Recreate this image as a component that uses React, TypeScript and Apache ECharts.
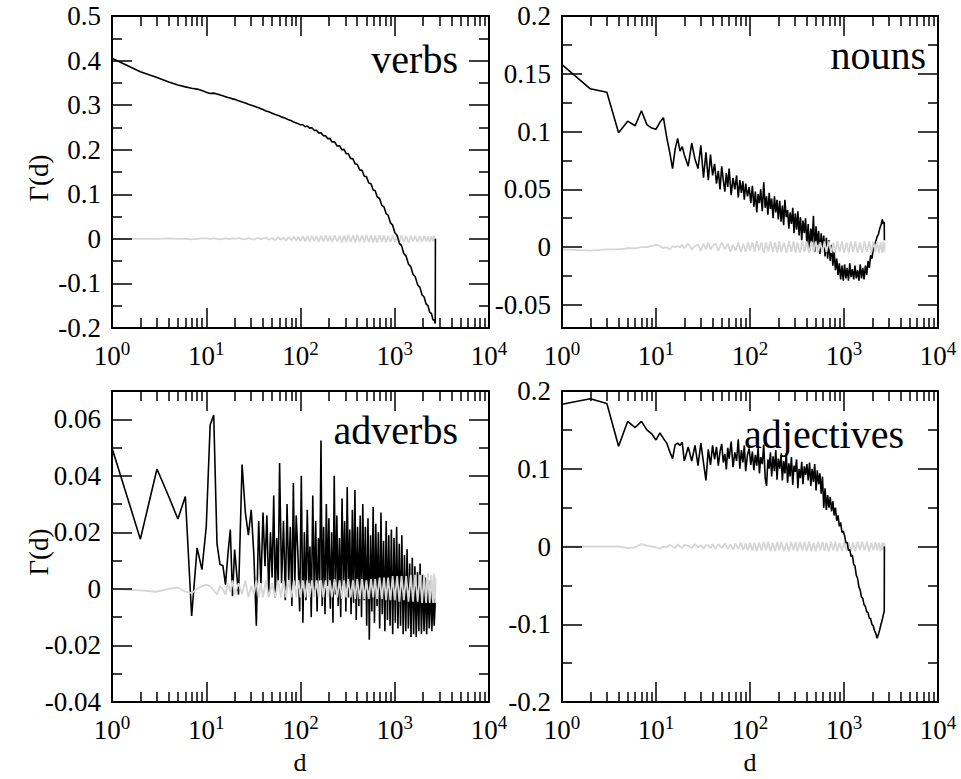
import React, { useEffect, useRef } from "react";
import * as echarts from "echarts";

// distance d (coarse sampling: verbs curve and all shuffled curves)
const D = [
  1, 2, 3, 4, 5, 6, 7, 8, 9, 10, 11, 12, 13, 14, 15, 16, 17, 18, 19, 20,
  22, 24, 26, 28, 30, 32, 34, 36, 38, 40,
  43, 46, 50, 54, 58, 62, 66, 70, 75, 80, 85, 90, 95, 100,
  106, 112, 118, 125, 132, 140, 148, 156, 165, 175, 185, 195,
  205, 215, 230, 245, 260, 275, 290, 305, 320, 340, 360, 380, 400,
  425, 450, 475, 500, 530, 560, 590, 620, 650, 690, 730, 770, 810, 850, 900, 950, 1000,
  1060, 1120, 1180, 1250, 1320, 1400, 1480, 1560, 1650, 1750, 1850, 1950,
  2050, 2150, 2250, 2350, 2450, 2550, 2620, 2690, 2700,
];

// denser sampling for the noisy curves (nouns, adverbs, adjectives)
const D_DENSE = [
  1, 2, 3, 4, 5, 6, 7, 8, 9, 10, 11, 12, 13, 14, 15, 16, 17, 18, 19, 20,
  22, 24, 26, 28, 30, 32, 34, 36, 38, 40,
  42, 44, 46, 48, 50, 52, 54, 56, 58, 60, 63, 66, 69, 72, 75, 78, 81, 84, 87, 90, 94, 98, 102,
  106, 110, 114, 118, 122, 126, 130, 135, 140, 145, 150, 155, 160, 165, 170, 176, 182, 188, 194, 200,
  207, 214, 221, 228, 235, 243, 251, 259, 267, 276, 285, 294, 303, 313, 323, 333, 344, 355, 366, 378, 390, 403,
  416, 430, 444, 458, 473, 488, 504, 520, 537, 554, 572, 590, 609, 629, 649, 670, 692, 714, 737, 761, 786, 811, 837, 864, 892, 921, 951, 982,
  1014, 1047, 1081, 1116, 1152, 1189, 1228, 1268, 1309, 1351, 1395, 1440, 1487, 1535, 1585, 1636, 1689, 1744, 1800, 1859, 1919, 1981,
  2045, 2111, 2180, 2250, 2323, 2398, 2476, 2556, 2620, 2680, 2690,
];

// verbs, on D
const VERBS_BLACK = [
  0.405, 0.375, 0.362, 0.352, 0.345, 0.341, 0.338, 0.336, 0.333, 0.329, 0.326, 0.327, 0.325, 0.323, 0.321, 0.319, 0.317, 0.316, 0.314, 0.313,
  0.31, 0.307, 0.305, 0.302, 0.3, 0.298, 0.296, 0.294, 0.292, 0.29,
  0.287, 0.285, 0.282, 0.279, 0.277, 0.274, 0.272, 0.27, 0.267, 0.265, 0.262, 0.26, 0.258, 0.256,
  0.256, 0.2515, 0.253, 0.2485, 0.2493, 0.2435, 0.2436, 0.2378, 0.2378, 0.2313, 0.231, 0.2247,
  0.2255, 0.2174, 0.2177, 0.2083, 0.2089, 0.1997, 0.2007, 0.1911, 0.1915, 0.1805, 0.1794, 0.1683, 0.1675,
  0.1548, 0.1536, 0.1404, 0.1396, 0.1255, 0.1236, 0.1096, 0.1082, 0.0944, 0.0906, 0.0751, 0.0717, 0.0564, 0.0532, 0.0359, 0.0307, 0.0141,
  0.0075, -0.0102, -0.0152, -0.0332, -0.0388, -0.0568, -0.0623, -0.0793, -0.0848, -0.1033, -0.1088, -0.1259,
  -0.1304, -0.146, -0.1496, -0.1648, -0.1674, -0.182, -0.1813, -0.19, 0,
];
const VERBS_GRAY = [
  0, 0, 0, 0.001, 0, 0, -0.001, 0, 0.001, 0.001, 0, 0.001, 0, -0.001, 0, 0.001, 0, 0, 0.001, 0,
  0.002, 0, -0.001, 0.002, 0, -0.002, 0.001, 0.002, -0.001, 0.001,
  0.003, -0.002, 0.002, -0.003, 0.004, -0.002, 0.003, -0.004, 0.004, -0.003, 0.005, -0.004, 0.005, -0.005,
  0.006, -0.005, 0.006, -0.006, 0.007, -0.005, 0.006, -0.007, 0.007, -0.006, 0.008, -0.006,
  0.007, -0.007, 0.008, -0.006, 0.007, -0.008, 0.008, -0.007, 0.009, -0.007, 0.008, -0.008, 0.009,
  -0.007, 0.008, -0.008, 0.009, -0.007, 0.008, -0.008, 0.007, -0.008, 0.008, -0.007, 0.008, -0.008, 0.007, -0.007, 0.008, -0.007,
  0.007, -0.007, 0.008, -0.007, 0.006, -0.008, 0.007, -0.006, 0.007, -0.007, 0.006, -0.007,
  0.007, -0.006, 0.006, -0.007, 0.006, -0.006, 0.007, -0.006, 0,
];

// nouns black, on D_DENSE
const NOUNS_BLACK = [
  0.158, 0.137, 0.134, 0.099, 0.109, 0.105, 0.118, 0.106, 0.103, 0.102, 0.108, 0.112, 0.095, 0.082, 0.068, 0.085, 0.094, 0.083, 0.087, 0.08,
  0.07, 0.09, 0.076, 0.068, 0.088, 0.06, 0.082, 0.058, 0.08, 0.062,
  0.072, 0.055, 0.066, 0.05, 0.07, 0.058, 0.048, 0.064, 0.052, 0.068, 0.045, 0.06, 0.05, 0.062, 0.043, 0.058, 0.047, 0.057, 0.041, 0.055, 0.044, 0.052, 0.038,
  0.053, 0.035, 0.048, 0.03, 0.046, 0.038, 0.05, 0.031, 0.056, 0.034, 0.044, 0.028, 0.047, 0.033, 0.042, 0.025, 0.044, 0.03, 0.041, 0.024,
  0.04, 0.022, 0.036, 0.019, 0.041, 0.026, 0.032, 0.016, 0.03, 0.02, 0.034, 0.012, 0.029, 0.015, 0.031, 0.01, 0.026, 0.006, 0.023, 0.012, 0.025, 0.002,
  0.02, -0.003, 0.016, 0.004, 0.027, -0.004, 0.018, 0.002, 0.014, -0.006, 0.012, -0.002, 0.01, -0.008, 0.008, -0.01, 0.006, -0.012, 0.002, -0.016, -0.004, -0.02, -0.01, -0.024, -0.014, -0.028, -0.016, -0.029,
  -0.015, -0.027, -0.018, -0.029, -0.014, -0.026, -0.019, -0.028, -0.016, -0.027, -0.02, -0.029, -0.015, -0.027, -0.018, -0.028, -0.016, -0.024, -0.012, -0.018, -0.007, -0.01,
  -0.002, 0.002, 0.005, 0.009, 0.011, 0.016, 0.019, 0.024, 0.02, 0.022, 0.006,
];
const NOUNS_GRAY = [
  -0.002, -0.003, -0.002, -0.002, -0.001, -0.001, 0, 0, 0.001, 0.002, 0.001, -0.001, 0, -0.002, 0.001, 0, 0.001, 0, 0.002, -0.001,
  0.003, -0.002, 0.001, 0.002, -0.003, 0.003, -0.002, 0.004, -0.002, 0.001,
  0.003, -0.003, 0.004, -0.002, 0.003, -0.004, 0.002, -0.003, 0.004, -0.004, 0.003, -0.004, 0.004, -0.003,
  0.004, -0.004, 0.005, -0.003, 0.004, -0.005, 0.004, -0.004, 0.005, -0.004, 0.004, -0.005,
  0.005, -0.004, 0.004, -0.005, 0.005, -0.004, 0.005, -0.005, 0.004, -0.005, 0.005, -0.004, 0.005,
  -0.005, 0.005, -0.004, 0.005, -0.005, 0.004, -0.005, 0.005, -0.004, 0.005, -0.005, 0.004, -0.005, 0.005, -0.004, 0.005, -0.005,
  0.004, -0.005, 0.005, -0.004, 0.005, -0.005, 0.004, -0.005, 0.005, -0.004, 0.005, -0.005,
  0.005, -0.004, 0.005, -0.005, 0.004, -0.005, 0.005, -0.004, 0.004,
];

// adverbs black, on D_DENSE
const ADVERBS_BLACK = [
  0.0498, 0.0176, 0.0424, 0.0327, 0.0247, 0.0327, -0.0096, 0.0145, 0.0068, 0.022, 0.058, 0.0615, 0.016, 0.0086, 0.0083, 0.0015, 0.0125, 0.021, -0.0026, 0.0139,
  -0.002, 0.044, 0.027, 0.019, 0.028, 0.012, -0.013, 0.024, 0.001, 0.027,
  0.008, 0.026, -0.002, 0.02, 0.004, 0.033, -0.003, 0.018, 0.001, 0.0445, 0.002, 0.024, -0.004, 0.03, 0.003, 0.022, -0.006, 0.0375, 0.001, 0.026, 0.012, -0.008, 0.04,
  -0.012, 0.02, -0.004, 0.028, 0.002, 0.015, -0.01, 0.033, -0.002, 0.024, -0.008, 0.018, 0.003, 0.0525, -0.006, 0.022, -0.009, 0.03, 0.001, 0.025,
  -0.007, 0.02, -0.012, 0.04, -0.002, 0.026, -0.006, 0.018, -0.01, 0.032, 0.001, 0.024, -0.008, 0.036, -0.003, 0.021, -0.009, 0.028, -0.005, 0.035, -0.011, 0.022,
  -0.006, 0.026, -0.01, 0.03, -0.004, 0.022, -0.013, 0.025, -0.018, 0.019, -0.008, 0.029, -0.012, 0.023, -0.006, 0.02, -0.014, 0.027, -0.009, 0.017, -0.015, 0.024, -0.011, 0.019, -0.013, 0.021, -0.016, 0.018,
  -0.012, 0.022, -0.014, 0.016, -0.013, 0.019, -0.016, 0.012, -0.015, 0.014, -0.014, 0.009, -0.017, 0.011, -0.016, 0.008, -0.017, 0.006, -0.015, 0.009, -0.016, 0.005,
  -0.015, 0.004, -0.016, 0.002, -0.014, 0.003, -0.015, 0.001, -0.013, -0.006, 0.003,
];
const ADVERBS_GRAY = [
  0, -0.0005, -0.001, 0, 0.0005, -0.001, -0.0015, 0, 0.001, 0.0015, 0.001, -0.0005, -0.002, 0.001, 0, -0.002, 0.002, -0.001, 0.003, -0.002,
  0.002, -0.002, 0.003, -0.003, 0.001, -0.002, 0.003, -0.003, 0.002, -0.003,
  0.003, -0.003, 0.002, -0.003, 0.003, -0.003, 0.003, -0.003, 0.003, -0.003, 0.003, -0.003, 0.003, -0.003,
  0.003, -0.003, 0.003, -0.003, 0.003, -0.003, 0.003, -0.003, 0.003, -0.003, 0.003, -0.003,
  0.003, -0.003, 0.0035, -0.003, 0.003, -0.0035, 0.003, -0.003, 0.0035, -0.003, 0.003, -0.0035, 0.0035,
  -0.0035, 0.0035, -0.0035, 0.003, -0.0035, 0.0035, -0.003, 0.0035, -0.0035, 0.004, -0.0035, 0.004, -0.004, 0.004, -0.004, 0.0045, -0.004,
  0.0045, -0.0045, 0.0045, -0.004, 0.0045, -0.0045, 0.005, -0.0045, 0.005, -0.0045, 0.005, -0.005,
  0.005, -0.005, 0.0055, -0.005, 0.005, -0.005, 0.0055, -0.005, 0.004,
];

// adjectives black, on D_DENSE
const ADJ_BLACK = [
  0.183, 0.19, 0.184, 0.129, 0.161, 0.153, 0.161, 0.15, 0.145, 0.137, 0.146, 0.139, 0.133, 0.122, 0.113, 0.131, 0.133, 0.13, 0.134, 0.11,
  0.128, 0.11, 0.13, 0.104, 0.133, 0.108, 0.085, 0.125, 0.105, 0.13,
  0.112, 0.128, 0.104, 0.122, 0.132, 0.108, 0.119, 0.099, 0.127, 0.113, 0.135, 0.102, 0.121, 0.11, 0.138, 0.1, 0.124, 0.108, 0.13, 0.097, 0.118, 0.126, 0.105,
  0.122, 0.098, 0.118, 0.104, 0.127, 0.094, 0.115, 0.106, 0.131, 0.088, 0.078, 0.112, 0.1, 0.121, 0.09, 0.116, 0.097, 0.124, 0.086, 0.113,
  0.1, 0.118, 0.085, 0.11, 0.094, 0.12, 0.082, 0.107, 0.09, 0.115, 0.079, 0.104, 0.096, 0.112, 0.075, 0.1, 0.088, 0.109, 0.08, 0.103, 0.092, 0.106,
  0.085, 0.108, 0.078, 0.1, 0.083, 0.106, 0.072, 0.098, 0.08, 0.094, 0.068, 0.09, 0.05, 0.075, 0.047, 0.066, 0.05, 0.064, 0.045, 0.058, 0.04, 0.05, 0.033, 0.04, 0.026, 0.031, 0.018, 0.02,
  0.014, 0.005, 0.005, -0.005, -0.004, -0.013, -0.011, -0.023, -0.025, -0.037, -0.041, -0.052, -0.056, -0.065, -0.067, -0.075, -0.077, -0.084, -0.085, -0.092, -0.093, -0.1,
  -0.102, -0.108, -0.112, -0.118, -0.113, -0.107, -0.1, -0.094, -0.088, -0.083, 0,
];
const ADJ_GRAY = [
  0, 0, 0, 0, -0.002, -0.001, 0.003, 0.001, 0, -0.001, -0.003, 0, -0.001, 0.002, 0, -0.002, 0.003, 0, -0.002, 0.002,
  0.001, -0.002, 0.003, -0.001, 0.002, -0.003, 0.002, 0.001, -0.002, 0.003,
  -0.003, 0.003, -0.002, 0.004, -0.003, 0.003, -0.004, 0.004, -0.003, 0.005, -0.004, 0.004, -0.005, 0.005,
  -0.005, 0.005, -0.006, 0.005, -0.005, 0.006, -0.005, 0.006, -0.006, 0.005, -0.006, 0.006,
  -0.005, 0.006, -0.006, 0.005, -0.006, 0.006, -0.005, 0.006, -0.006, 0.006, -0.005, 0.006, -0.006,
  0.006, -0.006, 0.005, -0.006, 0.006, -0.005, 0.006, -0.006, 0.005, -0.006, 0.006, -0.005, 0.006, -0.006, 0.005, -0.006, 0.006,
  -0.005, 0.006, -0.006, 0.005, -0.006, 0.006, -0.005, 0.006, -0.005, 0.006, -0.006, 0.005,
  -0.005, 0.006, -0.005, 0.005, -0.006, 0.005, -0.005, 0.005, 0,
];

// axis ticks
const X_MINOR = [2, 3, 4, 5, 6, 7, 8, 9, 20, 30, 40, 50, 60, 70, 80, 90, 200, 300, 400, 500, 600, 700, 800, 900, 2000, 3000, 4000, 5000, 6000, 7000, 8000, 9000];

const Y_MAJOR_VERBS = [-0.2, -0.1, 0, 0.1, 0.2, 0.3, 0.4, 0.5];
const Y_MINOR_VERBS = [-0.15, -0.05, 0.05, 0.15, 0.25, 0.35, 0.45];
const Y_MAJOR_NOUNS = [-0.05, 0, 0.05, 0.1, 0.15, 0.2];
const Y_MINOR_NOUNS = [-0.025, 0.025, 0.075, 0.125, 0.175];
const Y_MAJOR_ADVERBS = [-0.04, -0.02, 0, 0.02, 0.04, 0.06];
const Y_MINOR_ADVERBS = [-0.03, -0.01, 0.01, 0.03, 0.05];
const Y_MAJOR_ADJ = [-0.2, -0.1, 0, 0.1, 0.2];
const Y_MINOR_ADJ = [-0.15, -0.05, 0.05, 0.15];

const TITLES = ["verbs", "nouns", "adverbs", "adjectives"];
const Y_TITLE = "Γ(d)";
const X_TITLE = "d";

const FONT = "Liberation Serif";

const PANELS = [
  { xs: D, black: VERBS_BLACK, gray: VERBS_GRAY, yMin: -0.2, yMax: 0.5, yMajor: Y_MAJOR_VERBS, yMinor: Y_MINOR_VERBS, grayOnTop: false },
  { xs: D_DENSE, black: NOUNS_BLACK, gray: NOUNS_GRAY, yMin: -0.07, yMax: 0.2, yMajor: Y_MAJOR_NOUNS, yMinor: Y_MINOR_NOUNS, grayOnTop: true },
  { xs: D_DENSE, black: ADVERBS_BLACK, gray: ADVERBS_GRAY, yMin: -0.04, yMax: 0.07, yMajor: Y_MAJOR_ADVERBS, yMinor: Y_MINOR_ADVERBS, grayOnTop: true },
  { xs: D_DENSE, black: ADJ_BLACK, gray: ADJ_GRAY, yMin: -0.2, yMax: 0.2, yMajor: Y_MAJOR_ADJ, yMinor: Y_MINOR_ADJ, grayOnTop: false },
];

const GRIDS = [
  { left: 112, top: 16, width: 377, height: 312 },
  { left: 562, top: 16, width: 376, height: 312 },
  { left: 112, top: 391, width: 377, height: 311 },
  { left: 562, top: 391, width: 376, height: 311 },
];

const LABEL_POS = [
  { x: 458, y: 59 },
  { x: 926, y: 55 },
  { x: 458, y: 430 },
  { x: 904, y: 434 },
];

function buildOption() {
  const lineStyle = { color: "#000", width: 2 };
  const tickStyle = { color: "#000", width: 1.5 };
  const xAxis: any[] = [];
  const yAxis: any[] = [];
  const series: any[] = [];
  const logMinor = X_MINOR.map((v) => Math.log10(v));

  PANELS.forEach((p, g) => {
    const logBase = { type: "log", logBase: 10, min: 1, max: 10000, gridIndex: g, splitLine: { show: false }, z: 10 };
    const valBase = { type: "value", min: 0, max: 4, gridIndex: g, splitLine: { show: false }, z: 10 };
    xAxis.push({
      ...logBase,
      position: "bottom",
      axisLine: { show: true, onZero: false, lineStyle },
      axisTick: { show: true, inside: true, length: 20, lineStyle: tickStyle },
      axisLabel: {
        show: true,
        margin: 11,
        showMinLabel: true,
        showMaxLabel: true,
        fontFamily: FONT,
        formatter: (v: number) => `{b|10}{s|${Math.round(Math.log10(v))}}`,
        rich: {
          b: { fontSize: 27, fontFamily: FONT, color: "#000", lineHeight: 27, padding: [6, 0, 0, 0] },
          s: { fontSize: 19, fontFamily: FONT, color: "#000", verticalAlign: "top", lineHeight: 19 },
        },
      },
    });
    xAxis.push({
      ...valBase,
      position: "bottom",
      axisLine: { show: false, onZero: false },
      axisTick: { show: true, inside: true, length: 10, customValues: logMinor, lineStyle: tickStyle },
      axisLabel: { show: false },
    });
    xAxis.push({
      ...logBase,
      position: "top",
      axisLine: { show: true, onZero: false, lineStyle },
      axisTick: { show: true, inside: true, length: 20, lineStyle: tickStyle },
      axisLabel: { show: false },
    });
    xAxis.push({
      ...valBase,
      position: "top",
      axisLine: { show: false, onZero: false },
      axisTick: { show: true, inside: true, length: 10, customValues: logMinor, lineStyle: tickStyle },
      axisLabel: { show: false },
    });

    const yBase = { type: "value", min: p.yMin, max: p.yMax, gridIndex: g, splitLine: { show: false }, z: 10 };
    yAxis.push({
      ...yBase,
      position: "left",
      axisLine: { show: true, onZero: false, lineStyle },
      axisTick: { show: true, inside: true, length: 20, customValues: p.yMajor, lineStyle: tickStyle },
      axisLabel: {
        show: true,
        customValues: p.yMajor,
        margin: 11,
        fontSize: 27,
        fontFamily: FONT,
        color: "#000",
        formatter: (v: number) => String(Math.round(v * 1000) / 1000),
      },
    });
    yAxis.push({
      ...yBase,
      position: "left",
      axisLine: { show: false, onZero: false },
      axisTick: { show: true, inside: true, length: 10, customValues: p.yMinor, lineStyle: tickStyle },
      axisLabel: { show: false },
    });
    yAxis.push({
      ...yBase,
      position: "right",
      axisLine: { show: true, onZero: false, lineStyle },
      axisTick: { show: true, inside: true, length: 20, customValues: p.yMajor, lineStyle: tickStyle },
      axisLabel: { show: false },
    });
    yAxis.push({
      ...yBase,
      position: "right",
      axisLine: { show: false, onZero: false },
      axisTick: { show: true, inside: true, length: 10, customValues: p.yMinor, lineStyle: tickStyle },
      axisLabel: { show: false },
    });

    const n = Math.min(p.xs.length, p.black.length);
    const blackData = p.xs.slice(0, n).map((d, i) => [d, p.black[i]]);
    const m = Math.min(D.length, p.gray.length);
    const grayData = D.slice(0, m).map((d, i) => [d, p.gray[i]]);
    series.push({
      type: "line",
      name: TITLES[g] + " shuffled",
      xAxisIndex: g * 4,
      yAxisIndex: g * 4,
      data: grayData,
      showSymbol: false,
      symbol: "none",
      silent: true,
      z: p.grayOnTop ? 4 : 2,
      lineStyle: { color: "#d6d6d6", width: 1.8 },
    });
    series.push({
      type: "line",
      name: TITLES[g],
      xAxisIndex: g * 4,
      yAxisIndex: g * 4,
      data: blackData,
      showSymbol: false,
      symbol: "none",
      silent: true,
      z: p.grayOnTop ? 2 : 4,
      lineStyle: { color: "#000", width: 1.6 },
    });
  });

  const graphic: any[] = [];
  TITLES.forEach((t, i) => {
    graphic.push({
      type: "text",
      x: LABEL_POS[i].x,
      y: LABEL_POS[i].y,
      z: 20,
      style: { text: t, fontSize: 40, fontFamily: FONT, fill: "#000", align: "right", verticalAlign: "middle" },
    });
  });
  [178, 552].forEach((cy) => {
    graphic.push({
      type: "text",
      x: 39,
      y: cy,
      rotation: Math.PI / 2,
      style: { text: Y_TITLE, fontSize: 27, fontFamily: FONT, fill: "#000", align: "center", verticalAlign: "middle" },
    });
  });
  [300, 750].forEach((cx) => {
    graphic.push({
      type: "text",
      x: cx,
      y: 762,
      style: { text: X_TITLE, fontSize: 26, fontFamily: FONT, fill: "#000", align: "center", verticalAlign: "middle" },
    });
  });

  return {
    animation: false,
    backgroundColor: "#fff",
    textStyle: { fontFamily: FONT },
    grid: GRIDS.map((g) => ({ ...g, containLabel: false })),
    xAxis,
    yAxis,
    series,
    graphic,
  };
}

export default function App() {
  const ref = useRef<HTMLDivElement>(null);
  useEffect(() => {
    document.body.style.margin = "0";
    const chart = echarts.init(ref.current as HTMLDivElement, null, { renderer: "svg" });
    chart.setOption(buildOption() as any);
    return () => chart.dispose();
  }, []);
  return <div ref={ref} style={{ width: 961, height: 779 }} />;
}
